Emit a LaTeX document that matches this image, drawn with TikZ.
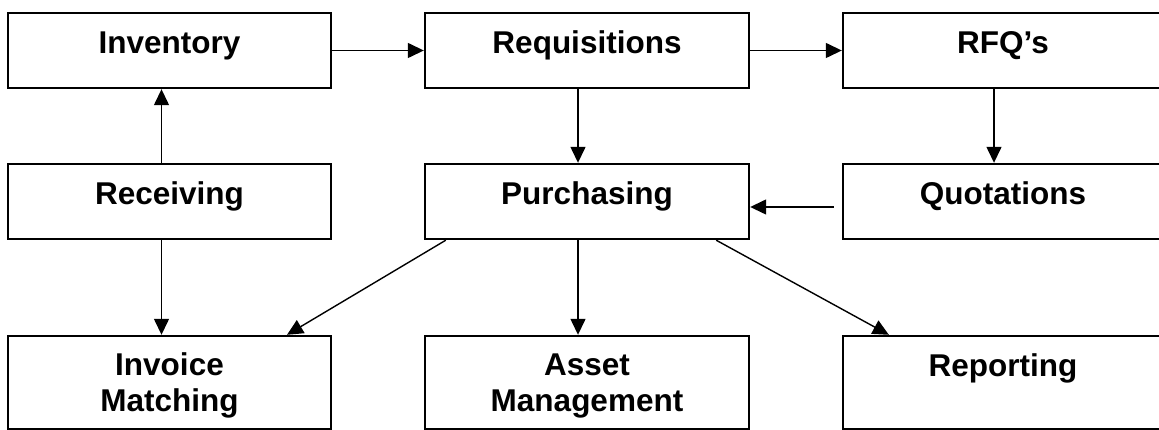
\documentclass[tikz,border=0pt]{standalone}
\usepackage{fontspec}
\setmainfont{Liberation Sans}
\usetikzlibrary{arrows.meta}
\begin{document}
\begin{tikzpicture}[x=1pt,y=-1pt,
  box/.style={draw=black, line width=2.4pt, rectangle, inner sep=0pt,
    font=\fontsize{31.5}{36}\selectfont\bfseries, align=center},
  topbox/.style={box, minimum height=75pt, text height=7pt, text depth=0pt},
  lowbox/.style={box, minimum height=93pt},
  twoline/.style={lowbox, text height=57pt, text depth=0pt},
  oneline/.style={lowbox, text height=0pt, text depth=12pt},
  flow/.style={line width=1.4pt, -{Triangle[length=16pt,width=15pt]}}]
  \useasboundingbox (0,0) rectangle (1159,430);
  \clip (0,0) rectangle (1159,430);
  % left column
  \node[topbox, minimum width=323pt] (inv) at (169.5,50.5) {Inventory};
  \node[topbox, minimum width=323pt] (rec) at (169.5,201.5) {Receiving};
  \node[twoline, minimum width=323pt] (imt) at (169.5,382.5) {Invoice\\Matching};
  % middle column
  \node[topbox, minimum width=324pt] (req) at (587,50.5) {Requisitions};
  \node[topbox, minimum width=324pt] (pur) at (587,201.5) {Purchasing};
  \node[twoline, minimum width=324pt] (ast) at (587,382.5) {Asset\\Management};
  % right column (runs past the right edge)
  \node[topbox, minimum width=320pt] (rfq) at (1003,50.5) {RFQ’s};
  \node[topbox, minimum width=320pt] (quo) at (1003,201.5) {Quotations};
  \node[oneline, minimum width=320pt] (rep) at (1003,382.5) {Reporting};
  % connectors
  \draw[flow] (inv.east) -- (req.west);
  \draw[flow] (req.east) -- (rfq.west);
  \draw[flow] ([xshift=-8pt]rec.north) -- ([xshift=-8pt]inv.south);
  \draw[flow] ([xshift=-8pt]rec.south) -- ([xshift=-8pt]imt.north);
  \draw[flow] ([xshift=-9pt]req.south) -- ([xshift=-9pt]pur.north);
  \draw[flow] ([xshift=-9pt]pur.south) -- ([xshift=-9pt]ast.north);
  \draw[flow] ([xshift=-9pt]rfq.south) -- ([xshift=-9pt]quo.north);
  \draw[flow, shorten <=8pt] ([yshift=-5.5pt]quo.west) -- ([yshift=-5.5pt]pur.east);
  \draw[flow] ([xshift=22pt]pur.south west) -- ([xshift=117.5pt]imt.north);
  \draw[flow] ([xshift=-34pt]pur.south east) -- ([xshift=47pt]rep.north west);
\end{tikzpicture}
\end{document}
